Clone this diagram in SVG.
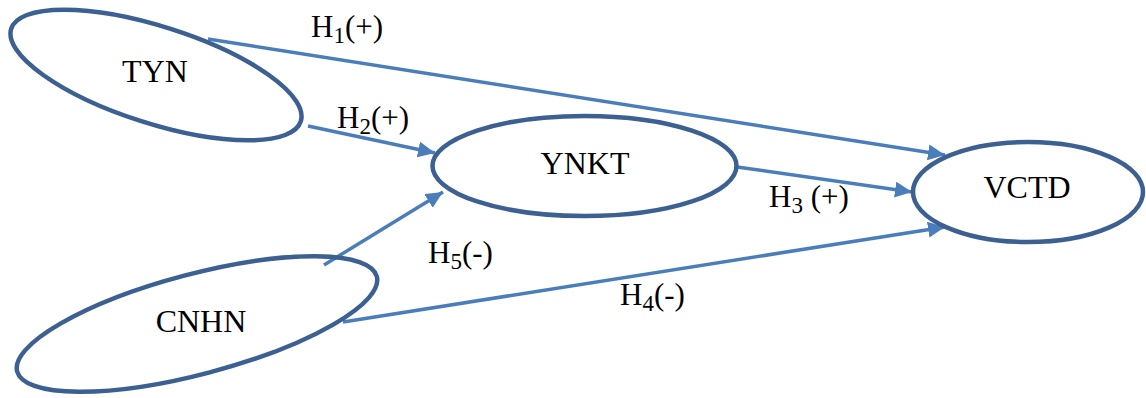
<svg xmlns="http://www.w3.org/2000/svg" width="1146" height="398" viewBox="0 0 1146 398">
<style>
.node{fill:none;stroke:#3b6091;stroke-width:4.5}
.lbl{font-family:"Liberation Serif","Times New Roman",serif;font-size:32px;fill:#000;text-anchor:middle}
.hl{font-family:"Liberation Serif","Times New Roman",serif;font-size:31px;fill:#000}
.sub{font-size:23px}
.edge{stroke:#4a7ebb;stroke-width:3.5;fill:none;marker-end:url(#ah)}
</style>
<defs>
<marker id="ah" markerUnits="userSpaceOnUse" markerWidth="18" markerHeight="16" refX="17" refY="8" orient="auto">
<path d="M0,0 L17,8 L0,16 Z" fill="#4a7ebb"/>
</marker>
</defs>
<rect width="1146" height="398" fill="#fff"/>
<g id="connectors">
<line class="edge" x1="208" y1="39" x2="945" y2="155"/>
<line class="edge" x1="308" y1="126" x2="435" y2="153"/>
<line class="edge" x1="737" y1="167" x2="912" y2="192"/>
<line class="edge" x1="343" y1="322" x2="945" y2="227"/>
<line class="edge" x1="324" y1="265" x2="443" y2="192"/>
</g>
<g id="node-TYN">
<ellipse class="node" cx="156" cy="75" rx="152" ry="48.5" transform="rotate(17.7 156 75)"/>
<text class="lbl" x="155" y="82">TYN</text>
</g>
<g id="node-YNKT">
<ellipse class="node" cx="584.5" cy="166" rx="152" ry="50"/>
<text class="lbl" x="585" y="174">YNKT</text>
</g>
<g id="node-VCTD">
<ellipse class="node" cx="1028" cy="192" rx="115" ry="50"/>
<text class="lbl" x="1027" y="198">VCTD</text>
</g>
<g id="node-CNHN">
<ellipse class="node" cx="197" cy="324" rx="186" ry="50" transform="rotate(-14.8 197 324)"/>
<text class="lbl" x="201" y="332">CNHN</text>
</g>
<g id="labels">
<text class="hl" x="311" y="37">H<tspan class="sub" dy="6">1</tspan><tspan dy="-6">(+)</tspan></text>
<text class="hl" x="337" y="128">H<tspan class="sub" dy="6">2</tspan><tspan dy="-6">(+)</tspan></text>
<text class="hl" x="769" y="207">H<tspan class="sub" dy="6">3</tspan><tspan dy="-6"> (+)</tspan></text>
<text class="hl" x="428" y="263">H<tspan class="sub" dy="6">5</tspan><tspan dy="-6">(-)</tspan></text>
<text class="hl" x="620" y="305">H<tspan class="sub" dy="6">4</tspan><tspan dy="-6">(-)</tspan></text>
</g>
</svg>
